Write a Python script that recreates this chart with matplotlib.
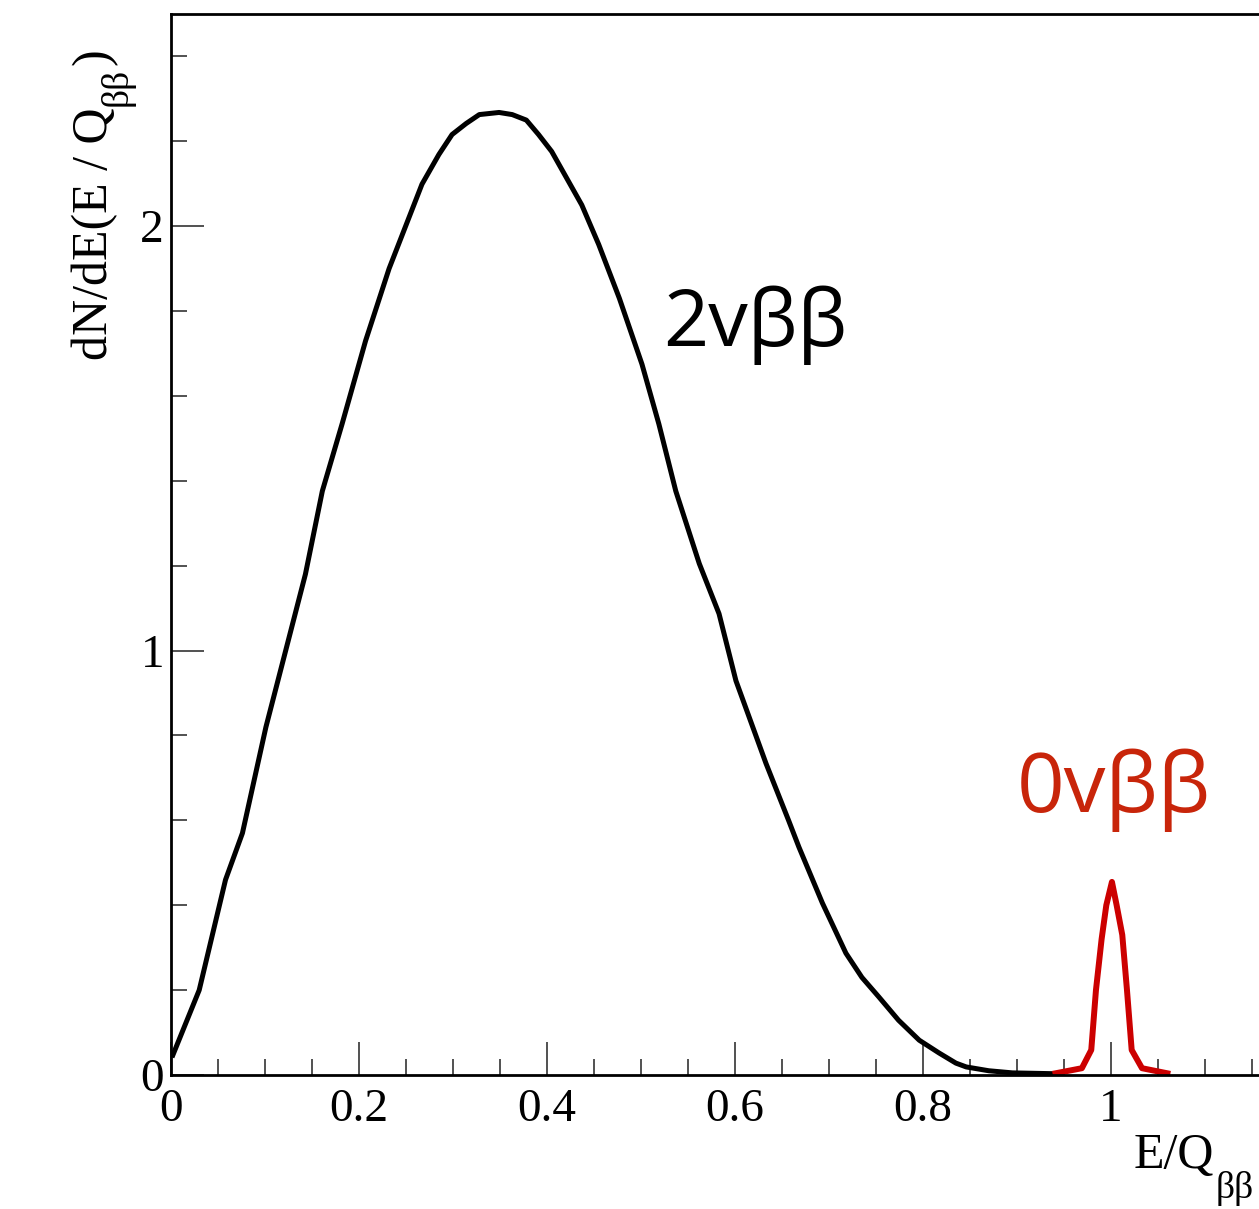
import matplotlib
matplotlib.use("Agg")
import matplotlib.pyplot as plt
from matplotlib.ticker import MultipleLocator, FuncFormatter

# 2 neutrino double beta spectrum
x_2nu = [0.002, 0.030, 0.058, 0.076, 0.101, 0.122, 0.143, 0.161, 0.182, 0.207,
         0.232, 0.267, 0.285, 0.299, 0.314, 0.328, 0.349, 0.363, 0.378, 0.391,
         0.405, 0.437, 0.455, 0.477, 0.501, 0.519, 0.537, 0.562, 0.583, 0.601,
         0.633, 0.657, 0.668, 0.693, 0.718, 0.735, 0.753, 0.774, 0.796,
         0.817, 0.835, 0.846, 0.870, 0.895, 0.940]
y_2nu = [0.047, 0.20, 0.46, 0.57, 0.82, 1.00, 1.18, 1.376, 1.534, 1.73,
         1.90, 2.099, 2.169, 2.216, 2.242, 2.263, 2.268, 2.263, 2.25, 2.216,
         2.176, 2.05, 1.957, 1.83, 1.675, 1.534, 1.376, 1.205, 1.087, 0.929,
         0.734, 0.60, 0.537, 0.405, 0.287, 0.230, 0.184, 0.129, 0.082,
         0.052, 0.028, 0.019, 0.010, 0.005, 0.003]

# 0 neutrino peak at Q
x_0nu = [0.941, 0.969, 0.979, 0.984, 0.990, 0.995, 1.001, 1.006, 1.012, 1.017,
         1.022, 1.033, 1.060]
y_0nu = [0.004, 0.016, 0.059, 0.20, 0.32, 0.40, 0.455, 0.40, 0.33, 0.20,
         0.059, 0.016, 0.004]

W, H = 1259, 1209
fig = plt.figure(figsize=(W / 100, H / 100), dpi=100)

# frame runs past the right edge of the picture
ax_left, ax_bottom, ax_top = 171, 1075, 14
x_max = 1.19
ax_w = x_max * 940
ax = fig.add_axes([ax_left / W, 1 - ax_bottom / H, ax_w / W, (ax_bottom - ax_top) / H])

ax.plot(x_2nu, y_2nu, color='black', lw=3.6, solid_joinstyle='round')
ax.plot(x_0nu, y_0nu, color='#cc0000', lw=4.3, solid_joinstyle='round')

ax.set_xlim(0, x_max)
ax.set_ylim(0, 2.5)

ax.xaxis.set_major_locator(MultipleLocator(0.2))
ax.xaxis.set_minor_locator(MultipleLocator(0.05))
ax.yaxis.set_major_locator(MultipleLocator(1))
ax.yaxis.set_minor_locator(MultipleLocator(0.2))
fmt = FuncFormatter(lambda v, p: '%g' % round(v, 3))
ax.xaxis.set_major_formatter(fmt)
ax.yaxis.set_major_formatter(fmt)

serif = ['Liberation Serif', 'DejaVu Serif']
ax.tick_params(which='both', direction='in', top=False, right=False, width=1.1, color='#222222')
ax.tick_params(which='major', length=23.5)
ax.tick_params(which='minor', length=11.5)
ax.tick_params(axis='x', which='major', pad=10)
ax.tick_params(axis='y', which='major', pad=5)
for lab in ax.get_xticklabels() + ax.get_yticklabels():
    lab.set_family(serif)
    lab.set_fontsize(34)

for s in ax.spines.values():
    s.set_linewidth(2.0)

# axis titles, ROOT style: subscript drawn as its own text, well below the baseline
r = fig.canvas.get_renderer()
px = lambda x, y: (x / W, 1 - y / H)

# y title (rotated, reads bottom to top)
t_main = fig.text(*px(107, 360), 'dN/dE(E / Q', rotation=90, rotation_mode='anchor',
                  ha='left', va='baseline', fontsize=36, family=serif)
top = H - t_main.get_window_extent(r).y1
t_sub = fig.text(*px(127, top - 2), 'ββ', rotation=90, rotation_mode='anchor',
                 ha='left', va='baseline', fontsize=27, family=serif)
top = H - t_sub.get_window_extent(r).y1
fig.text(*px(107, top - 2), ')', rotation=90, rotation_mode='anchor',
         ha='left', va='baseline', fontsize=36, family=serif)

# x title
t_x = fig.text(*px(1134, 1168), 'E/Q', ha='left', va='baseline', fontsize=36, family=serif)
right = t_x.get_window_extent(r).x1
fig.text(*px(right + 1, 1198), 'ββ', ha='left', va='baseline', fontsize=27, family=serif)

# annotations
sans = ['Open Sans', 'DejaVu Sans']
ax.text(0.524, 1.718, '2vββ', fontsize=57, family=sans, color='black', va='baseline')
ax.text(0.900, 0.619, '0vββ', fontsize=60, family=sans, color='#c8250a', va='baseline')

fig.savefig('out.png', dpi=100)
